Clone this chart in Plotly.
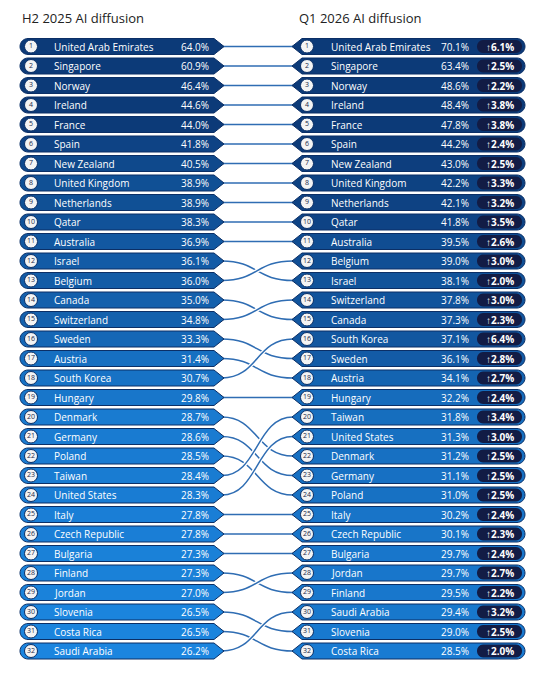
import plotly.graph_objects as go

h2_countries = ["United Arab Emirates", "Singapore", "Norway", "Ireland", "France", "Spain",
                "New Zealand", "United Kingdom", "Netherlands", "Qatar", "Australia", "Israel",
                "Belgium", "Canada", "Switzerland", "Sweden", "Austria", "South Korea", "Hungary",
                "Denmark", "Germany", "Poland", "Taiwan", "United States", "Italy", "Czech Republic",
                "Bulgaria", "Finland", "Jordan", "Slovenia", "Costa Rica", "Saudi Arabia"]
h2_values = [64.0, 60.9, 46.4, 44.6, 44.0, 41.8, 40.5, 38.9, 38.9, 38.3, 36.9, 36.1, 36.0, 35.0,
             34.8, 33.3, 31.4, 30.7, 29.8, 28.7, 28.6, 28.5, 28.4, 28.3, 27.8, 27.8, 27.3, 27.3,
             27.0, 26.5, 26.5, 26.2]

q1_countries = ["United Arab Emirates", "Singapore", "Norway", "Ireland", "France", "Spain",
                "New Zealand", "United Kingdom", "Netherlands", "Qatar", "Australia", "Belgium",
                "Israel", "Switzerland", "Canada", "South Korea", "Sweden", "Austria", "Hungary",
                "Taiwan", "United States", "Denmark", "Germany", "Poland", "Italy", "Czech Republic",
                "Bulgaria", "Jordan", "Finland", "Saudi Arabia", "Slovenia", "Costa Rica"]
q1_values = [70.1, 63.4, 48.6, 48.4, 47.8, 44.2, 43.0, 42.2, 42.1, 41.8, 39.5, 39.0, 38.1, 37.8,
             37.3, 37.1, 36.1, 34.1, 32.2, 31.8, 31.3, 31.2, 31.1, 31.0, 30.2, 30.1, 29.7, 29.7,
             29.5, 29.4, 29.0, 28.5]
q1_change = [6.1, 2.5, 2.2, 3.8, 3.8, 2.4, 2.5, 3.3, 3.2, 3.5, 2.6, 3.0, 2.0, 3.0, 2.3, 6.4,
             2.8, 2.7, 2.4, 3.4, 3.0, 2.5, 2.5, 2.5, 2.4, 2.3, 2.4, 2.7, 2.2, 3.2, 2.5, 2.0]

FONT = "Open Sans"
Y0, DY, HH = 46.5, 19.5, 8


def row_y(i):
    return Y0 + i * DY


def fill_for(v):
    # dark navy for high values, bright blue for low ones
    t = max(0.0, min(1.0, (v - 26.0) / (44.0 - 26.0)))
    c0, c1 = (27, 134, 224), (12, 58, 120)
    return "rgb({},{},{})".format(*[round(a + (b - a) * t) for a, b in zip(c0, c1)])


shapes = []
annotations = []

# connectors first, so pills sit on top
for i, c in enumerate(h2_countries):
    yl, yr = row_y(i), row_y(q1_countries.index(c))
    path = f"M 222,{yl} C 258,{yl} 256,{yr} 293,{yr}"
    shapes.append(dict(type="path", path=path, line=dict(color="white", width=4), layer="below"))
    shapes.append(dict(type="path", path=path, line=dict(color="#2f6db3", width=1.5), layer="below"))


def left_pill(y):
    return (f"M 28,{y-HH} L 214,{y-HH} L 224,{y} L 214,{y+HH} L 28,{y+HH} "
            f"C 23.6,{y+HH} 20,{y+4.4} 20,{y} C 20,{y-4.4} 23.6,{y-HH} 28,{y-HH} Z")


def right_pill(y):
    return (f"M 302,{y-HH} L 517,{y-HH} C 521.4,{y-HH} 525,{y-4.4} 525,{y} "
            f"C 525,{y+4.4} 521.4,{y+HH} 517,{y+HH} L 302,{y+HH} L 292,{y} Z")


def badge(y):
    h = 6.5
    return (f"M 483,{y-h} L 516,{y-h} C 519.5,{y-h} 522,{y-3.5} 522,{y} "
            f"C 522,{y+3.5} 519.5,{y+h} 516,{y+h} L 483,{y+h} "
            f"C 479.5,{y+h} 477,{y+3.5} 477,{y} C 477,{y-3.5} 479.5,{y-h} 483,{y-h} Z")


for i in range(32):
    y = row_y(i)
    shapes.append(dict(type="path", path=left_pill(y), fillcolor=fill_for(h2_values[i]),
                       line=dict(color="#0b2f66", width=1), layer="below"))
    shapes.append(dict(type="path", path=right_pill(y), fillcolor=fill_for(q1_values[i]),
                       line=dict(color="#0b2f66", width=1), layer="below"))
    shapes.append(dict(type="path", path=badge(y), fillcolor="#121c45", line=dict(width=0),
                       layer="below"))
    annotations += [
        dict(x=52, y=y, text=h2_countries[i], xanchor="left"),
        dict(x=211, y=y, text=f"{h2_values[i]:.1f}%", xanchor="right"),
        dict(x=329, y=y, text=q1_countries[i], xanchor="left"),
        dict(x=471, y=y, text=f"{q1_values[i]:.1f}%", xanchor="right"),
        dict(x=499.5, y=y, text=f"<b>↑{q1_change[i]:.1f}%</b>", xanchor="center",
             font=dict(size=10, color="white", family=FONT)),
    ]

for a in annotations:
    a.update(xref="x", yref="y", showarrow=False, yanchor="middle")
    a.setdefault("font", dict(size=10, color="white", family=FONT))

annotations += [
    dict(x=20, y=18, text="H2 2025 AI diffusion", xref="x", yref="y", showarrow=False,
         xanchor="left", font=dict(size=13, color="#222", family=FONT)),
    dict(x=297, y=18, text="Q1 2026 AI diffusion", xref="x", yref="y", showarrow=False,
         xanchor="left", font=dict(size=13, color="#222", family=FONT)),
]

ranks = list(range(1, 33))
ys = [row_y(i) for i in range(32)]
fig = go.Figure()
for cx in (31, 307):
    fig.add_trace(go.Scatter(
        x=[cx] * 32, y=ys, mode="markers+text", text=[str(r) for r in ranks],
        textposition="middle center", textfont=dict(size=7, color="#1a2a4a", family=FONT),
        marker=dict(size=13, color="#f4f4f4", line=dict(color="#0b2f66", width=1)),
        hoverinfo="skip", showlegend=False, cliponaxis=False))

# page body has an 8px margin, so shift the axis ranges to keep pixel coordinates
fig.update_layout(
    width=544, height=683, margin=dict(l=0, r=0, t=0, b=0),
    plot_bgcolor="white", paper_bgcolor="white",
    xaxis=dict(range=[8, 552], visible=False, fixedrange=True),
    yaxis=dict(range=[691, 8], visible=False, fixedrange=True),
    shapes=shapes, annotations=annotations,
)
fig.write_html("out.html")
